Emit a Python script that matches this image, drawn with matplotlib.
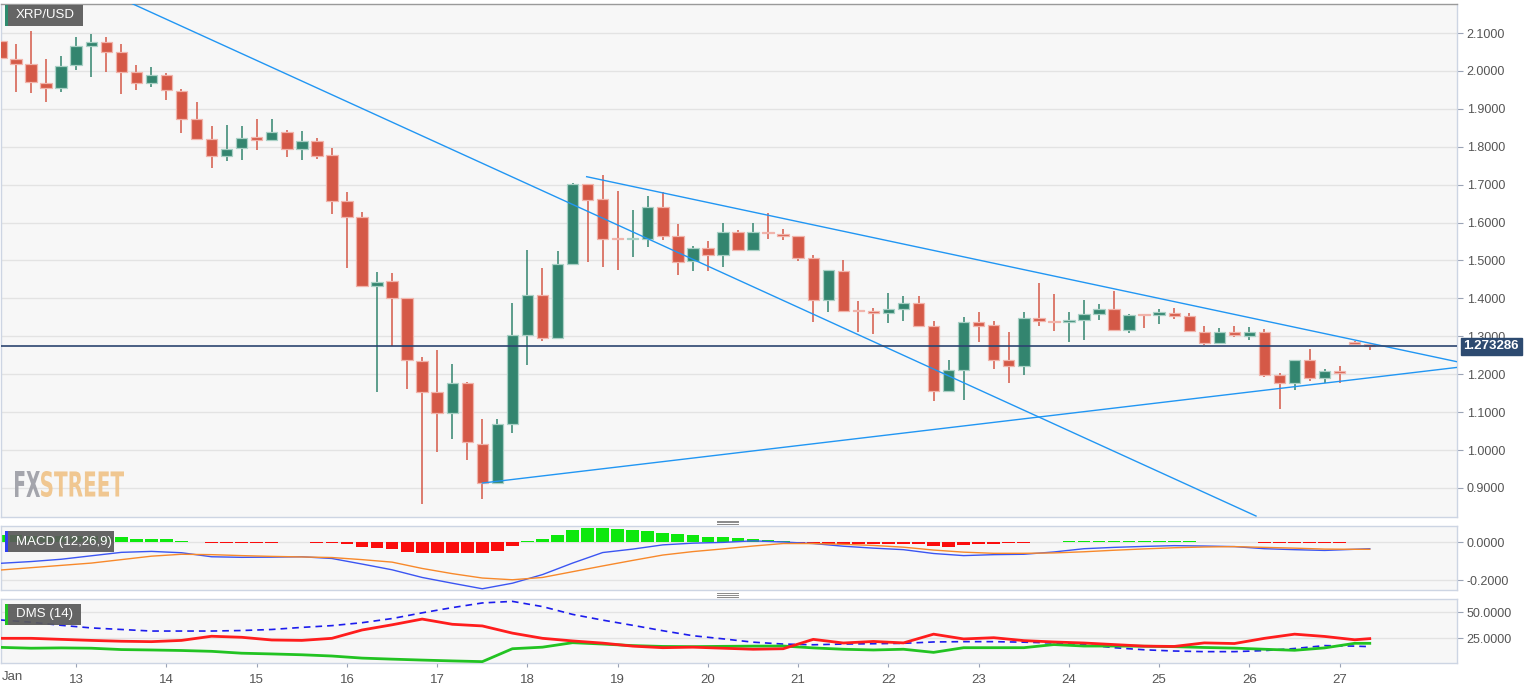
import matplotlib as mpl
mpl.use('agg')
import matplotlib.pyplot as plt
import matplotlib.dates as mdates
from matplotlib.patches import Rectangle, PathPatch
from matplotlib.textpath import TextPath
from matplotlib.font_manager import FontProperties
from matplotlib.transforms import Affine2D, IdentityTransform, blended_transform_factory
from matplotlib.lines import Line2D
import numpy as np
import pandas as pd

plt.rcParams['font.family'] = ['Liberation Sans', 'DejaVu Sans']

# ---- data (4h candles, XRP/USD, Jan 2018) ----
times = pd.date_range('2018-01-12 04:00', periods=92, freq='4h')

opens = [2.080, 2.032, 2.018, 1.967, 1.954, 2.015, 2.065, 2.075, 2.051, 1.996,
         1.968, 1.990, 1.947, 1.874, 1.821, 1.776, 1.796, 1.825, 1.817, 1.838,
         1.794, 1.814, 1.777, 1.656, 1.615, 1.433, 1.446, 1.400, 1.235, 1.154,
         1.098, 1.176, 1.017, 0.912, 1.068, 1.303, 1.408, 1.295, 1.491, 1.703,
         1.661, 1.558, 1.557, 1.558, 1.641, 1.564, 1.499, 1.532, 1.514, 1.576,
         1.527, 1.575, 1.571, 1.564, 1.506, 1.397, 1.472, 1.368, 1.367, 1.362,
         1.373, 1.387, 1.327, 1.157, 1.211, 1.337, 1.329, 1.237, 1.223, 1.348,
         1.341, 1.337, 1.344, 1.360, 1.372, 1.316, 1.357, 1.356, 1.362, 1.353,
         1.312, 1.282, 1.311, 1.302, 1.311, 1.197, 1.176, 1.238, 1.191, 1.209,
         1.284, 1.280]
highs = [2.147, 2.071, 2.106, 2.032, 2.040, 2.090, 2.097, 2.090, 2.071, 2.016,
         2.011, 1.994, 1.953, 1.919, 1.854, 1.858, 1.855, 1.874, 1.874, 1.843,
         1.842, 1.824, 1.798, 1.680, 1.627, 1.470, 1.466, 1.400, 1.246, 1.264,
         1.226, 1.180, 1.083, 1.081, 1.389, 1.527, 1.479, 1.524, 1.705, 1.703,
         1.725, 1.682, 1.632, 1.669, 1.681, 1.596, 1.538, 1.551, 1.600, 1.580,
         1.600, 1.624, 1.582, 1.564, 1.514, 1.475, 1.500, 1.393, 1.376, 1.413,
         1.406, 1.406, 1.341, 1.237, 1.350, 1.363, 1.340, 1.311, 1.365, 1.440,
         1.411, 1.365, 1.396, 1.384, 1.419, 1.360, 1.360, 1.371, 1.376, 1.362,
         1.328, 1.321, 1.327, 1.324, 1.318, 1.203, 1.238, 1.266, 1.215, 1.222,
         1.288, 1.280]
lows = [1.993, 1.944, 1.941, 1.918, 1.944, 2.003, 1.983, 1.996, 1.939, 1.950,
        1.957, 1.924, 1.836, 1.817, 1.745, 1.763, 1.766, 1.792, 1.817, 1.773,
        1.766, 1.768, 1.622, 1.479, 1.429, 1.152, 1.275, 1.160, 0.857, 0.994,
        1.028, 0.975, 0.870, 0.912, 1.044, 1.225, 1.288, 1.292, 1.489, 1.497,
        1.483, 1.476, 1.508, 1.536, 1.555, 1.461, 1.473, 1.473, 1.482, 1.527,
        1.527, 1.558, 1.555, 1.499, 1.339, 1.363, 1.365, 1.312, 1.306, 1.334,
        1.341, 1.328, 1.130, 1.157, 1.133, 1.284, 1.215, 1.178, 1.198, 1.327,
        1.314, 1.285, 1.290, 1.343, 1.314, 1.310, 1.321, 1.332, 1.345, 1.314,
        1.276, 1.279, 1.297, 1.290, 1.194, 1.108, 1.159, 1.183, 1.176, 1.176,
        1.280, 1.264]
closes = [2.033, 2.018, 1.970, 1.954, 2.014, 2.066, 2.077, 2.051, 1.996, 1.968,
          1.989, 1.949, 1.874, 1.821, 1.775, 1.795, 1.822, 1.817, 1.839, 1.794,
          1.814, 1.775, 1.658, 1.615, 1.433, 1.444, 1.400, 1.237, 1.154, 1.098,
          1.176, 1.020, 0.912, 1.068, 1.303, 1.408, 1.295, 1.490, 1.703, 1.659,
          1.558, 1.557, 1.558, 1.641, 1.564, 1.496, 1.533, 1.514, 1.576, 1.527,
          1.574, 1.572, 1.564, 1.506, 1.397, 1.475, 1.367, 1.366, 1.362, 1.373,
          1.387, 1.328, 1.157, 1.211, 1.337, 1.328, 1.237, 1.223, 1.348, 1.341,
          1.337, 1.344, 1.360, 1.372, 1.316, 1.356, 1.355, 1.363, 1.353, 1.314,
          1.282, 1.312, 1.304, 1.312, 1.197, 1.176, 1.238, 1.189, 1.209, 1.203,
          1.280, 1.275]
last_price = 1.273286

# trend lines (time, price)
down_t = ['2018-01-13 12:45', '2018-01-26 01:45']
down_p = [2.187, 0.826]
upper_t = ['2018-01-18 15:45', '2018-01-28 07:12']
upper_p = [1.721, 1.233]
lower_t = ['2018-01-17 12:00', '2018-01-28 07:12']
lower_p = [0.913, 1.218]

# indicators read every 8h, plus the last candle
ind_t = list(pd.date_range('2018-01-12 04:00', '2018-01-27 04:00', freq='8h')) + [pd.Timestamp('2018-01-27 08:00')]
macd_line = [-0.111, -0.102, -0.090, -0.072, -0.054, -0.049, -0.056, -0.077, -0.080, -0.079,
             -0.077, -0.086, -0.115, -0.145, -0.185, -0.215, -0.244, -0.215, -0.170, -0.110,
             -0.055, -0.037, -0.015, -0.006, -0.002, 0.006, 0.000, -0.008, -0.022, -0.032,
             -0.040, -0.060, -0.071, -0.066, -0.064, -0.052, -0.035, -0.028, -0.023, -0.019,
             -0.021, -0.024, -0.035, -0.040, -0.044, -0.038, -0.035]
macd_signal = [-0.146, -0.134, -0.122, -0.110, -0.092, -0.074, -0.064, -0.066, -0.071, -0.075,
               -0.078, -0.081, -0.092, -0.105, -0.138, -0.165, -0.188, -0.197, -0.185, -0.155,
               -0.125, -0.096, -0.068, -0.050, -0.036, -0.021, -0.008, -0.008, -0.012, -0.018,
               -0.027, -0.042, -0.053, -0.059, -0.059, -0.057, -0.051, -0.043, -0.036, -0.030,
               -0.026, -0.024, -0.028, -0.032, -0.037, -0.038, -0.038]
macd_hist = [0.035, 0.034, 0.033, 0.032, 0.031, 0.030, 0.030, 0.028,
             0.024, 0.017, 0.016, 0.014, 0.005, 0.001, -0.003, -0.003,
             -0.003, -0.003, -0.003, -0.002, -0.002, -0.003, -0.006, -0.012,
             -0.028, -0.033, -0.038, -0.050, -0.059, -0.059, -0.059, -0.059,
             -0.059, -0.045, -0.019, 0.003, 0.016, 0.037, 0.063, 0.073,
             0.073, 0.066, 0.063, 0.057, 0.049, 0.040, 0.037, 0.028,
             0.024, 0.021, 0.016, 0.012, 0.006, -0.003, -0.005, -0.008,
             -0.010, -0.010, -0.010, -0.011, -0.011, -0.013, -0.022, -0.025,
             -0.018, -0.010, -0.009, -0.007, -0.004, -0.002, 0.002, 0.004,
             0.006, 0.007, 0.007, 0.007, 0.006, 0.005, 0.004, 0.003,
             0.002, 0.001, 0.000, -0.001, -0.004, -0.006, -0.006, -0.006,
             -0.005, -0.004, -0.002, 0.001]
di_minus = [25.0, 25.0, 24.0, 23.0, 22.2, 21.8, 23.0, 27.0, 26.0, 23.4,
            23.0, 25.0, 33.0, 38.0, 43.5, 38.5, 36.9, 30.0, 25.0, 22.5,
            20.4, 17.5, 16.0, 16.5, 15.5, 14.5, 15.0, 24.0, 20.5, 22.0,
            20.6, 29.0, 24.4, 25.6, 22.8, 21.5, 20.5, 19.0, 17.5, 17.2,
            20.6, 20.0, 25.0, 29.0, 26.8, 23.6, 24.7]
di_plus = [16.3, 15.5, 15.8, 15.5, 14.2, 13.8, 13.3, 12.5, 10.7, 10.0,
           9.2, 8.0, 6.0, 5.0, 4.1, 3.3, 2.6, 15.0, 16.5, 20.8,
           19.5, 18.0, 17.2, 17.0, 17.3, 17.5, 17.6, 15.8, 14.5, 13.8,
           14.5, 11.5, 16.0, 16.0, 16.0, 19.0, 17.6, 17.6, 17.4, 17.0,
           16.2, 15.6, 14.5, 13.5, 15.8, 20.2, 20.2]
adx = [42.6, 40.5, 37.5, 35.0, 33.5, 32.0, 32.0, 32.0, 32.5, 33.5,
       35.5, 37.2, 40.0, 44.0, 49.5, 54.5, 59.0, 60.5, 55.5, 48.0,
       42.5, 37.5, 32.3, 27.5, 24.5, 21.3, 19.5, 18.8, 19.5, 19.8,
       20.2, 21.5, 21.8, 21.8, 21.3, 20.5, 19.0, 16.0, 14.0, 12.8,
       12.2, 12.2, 13.2, 15.2, 18.0, 17.5, 17.0]

day_ticks = pd.date_range('2018-01-13', '2018-01-27', freq='D')
day_labels = [str(d.day) for d in day_ticks]

# ---- style ----
W, H = 1534, 689
BG = '#f7f7f7'
GRID = '#e3e3e3'
SPINE = '#cdd5e3'
TXT = '#555555'
UP, DN = '#33856f', '#d55947'
UP_E, DN_E = '#a9d0c5', '#f1b4ab'

fig = plt.figure(figsize=(W / 100, H / 100), dpi=100)
fig.patch.set_facecolor('white')

def px_axes(top, bottom):
    return fig.add_axes([1 / W, 1 - bottom / H, 1456 / W, (bottom - top) / H])

ax = px_axes(4, 517.4)
axm = px_axes(526, 590.3)
axd = px_axes(599.3, 663.3)

x = mdates.date2num(times)
xlim = (mdates.date2num(pd.Timestamp('2018-01-12 04:00')),
        mdates.date2num(pd.Timestamp('2018-01-28 07:12')))

for a in (ax, axm, axd):
    a.set_facecolor(BG)
    a.set_xlim(*xlim)
    a.yaxis.tick_right()
    a.tick_params(axis='y', colors=TXT, labelsize=9, length=4, width=0.8, pad=3)
    a.tick_params(axis='y', color='#9aa3b5')
    for s in a.spines.values():
        s.set_color(SPINE)
        s.set_linewidth(1)
    a.grid(axis='y', color=GRID, lw=1)
    a.set_axisbelow(True)
    a.set_xticks([])
ax.spines['top'].set_color('#9a9a9a')

# ---- candles ----
o, h, l, c = map(np.array, (opens, highs, lows, closes))
up = c >= o
col = np.where(up, UP, DN)
ecol = np.where(up, UP_E, DN_E)
bw = 4 / 24 * 0.76
ax.vlines(x, l, h, colors=col, lw=1.1, zorder=2)
body = np.maximum(np.abs(c - o), 0.003)
ax.bar(x, body, bottom=np.minimum(o, c), width=bw, color=col, edgecolor=ecol,
       linewidth=0.9, zorder=3)

ax.set_ylim(0.8224, 2.1765)
ax.set_yticks(np.arange(0.9, 2.15, 0.1))
ax.yaxis.set_major_formatter(mpl.ticker.FormatStrFormatter('%.4f'))

tl_col = '#2196f3'
for tt, pp in ((down_t, down_p), (upper_t, upper_p), (lower_t, lower_p)):
    ax.plot(mdates.date2num(pd.to_datetime(tt)), pp, color=tl_col, lw=1.0, zorder=4)

ax.axhline(last_price, color='#2b4570', lw=1.2, zorder=5)
tr = blended_transform_factory(ax.transAxes, ax.transData)
ax.text(1.0045, last_price, '%.6f' % last_price, transform=tr, ha='left', va='center',
        color='white', fontsize=9.5, fontweight='bold', zorder=6, clip_on=False,
        bbox=dict(boxstyle='square,pad=0.22', fc='#2d4a70', ec='#2d4a70'))

# ---- MACD ----
xi = mdates.date2num(pd.to_datetime(ind_t))
hist = np.array(macd_hist)
hcol = np.where(hist >= 0, '#0de80d', '#fa0d0d')
axm.bar(x, hist, width=4 / 24 * 0.85, color=hcol, zorder=2)
axm.plot(xi, macd_line, color='#3b55f2', lw=1.0, zorder=3)
axm.plot(xi, macd_signal, color='#f7892b', lw=1.0, zorder=3)
axm.set_ylim(-0.252, 0.0835)
axm.set_yticks([0.0, -0.2])
axm.yaxis.set_major_formatter(mpl.ticker.FormatStrFormatter('%.4f'))

# ---- DMS ----
axd.plot(xi, adx, color='#1c1ced', lw=1.2, ls=(0, (4, 3)), zorder=3)
axd.plot(xi, di_plus, color='#22c322', lw=2.0, zorder=3)
axd.plot(xi, di_minus, color='#ff1d1d', lw=2.0, zorder=4)
axd.set_ylim(1.0, 62.5)
axd.set_yticks([25, 50])
axd.yaxis.set_major_formatter(mpl.ticker.FormatStrFormatter('%.4f'))
axd.set_xticks(mdates.date2num(day_ticks))
axd.set_xticklabels(day_labels)
axd.tick_params(axis='x', colors=TXT, labelsize=9.5, length=3, width=0.8, pad=5)
axd.tick_params(axis='x', color='#9aa3b5')
fig.text(2 / W, 1 - 677 / H, 'Jan', color=TXT, fontsize=9.5, ha='left', va='center')

# ---- label boxes ----
def tag(x0, y0, w, hgt, text, stripe):
    fig.add_artist(Rectangle((x0 / W, 1 - (y0 + hgt) / H), w / W, hgt / H,
                             transform=fig.transFigure, fc='#5a5a5a', ec='none',
                             alpha=0.93, zorder=10))
    fig.add_artist(Rectangle((x0 / W, 1 - (y0 + hgt) / H), 3 / W, hgt / H,
                             transform=fig.transFigure, fc=stripe, ec='none', zorder=11))
    fig.text((x0 + 11) / W, 1 - (y0 + hgt / 2) / H, text, color='white', fontsize=9.5,
             ha='left', va='center', zorder=12)

tag(5, 5, 78, 21, 'XRP/USD', '#2e8b6e')
tag(5, 531, 109, 21, 'MACD (12,26,9)', '#2f3ff0')
tag(5, 604, 76, 21, 'DMS (14)', '#22c322')

# ---- panel handles ----
for yy in (520.7, 522.3, 524.0, 593.3, 595.0, 596.7):
    fig.add_artist(Line2D([717, 738], [H - yy, H - yy], transform=IdentityTransform(),
                          color='#8a8a8a', lw=0.7))

# ---- watermark ----
fp = FontProperties(family='DejaVu Sans', weight='bold')
def wm(text, x0, x1, y_top, y_bot, color):
    p = TextPath((0, 0), text, size=20, prop=fp)
    e = p.get_extents()
    t = Affine2D().translate(-e.x0, -e.y0).scale((x1 - x0) / e.width, (y_bot - y_top) / e.height) \
        .translate(x0, H - y_bot)
    fig.add_artist(PathPatch(p, transform=t, fc=color, ec='none', alpha=0.9))

wm('FX', 15, 40, 471, 497, '#9b9ca4')
wm('STREET', 41, 124, 471, 497, '#f0c286')

fig.savefig('out.png', dpi=100, facecolor='white')
